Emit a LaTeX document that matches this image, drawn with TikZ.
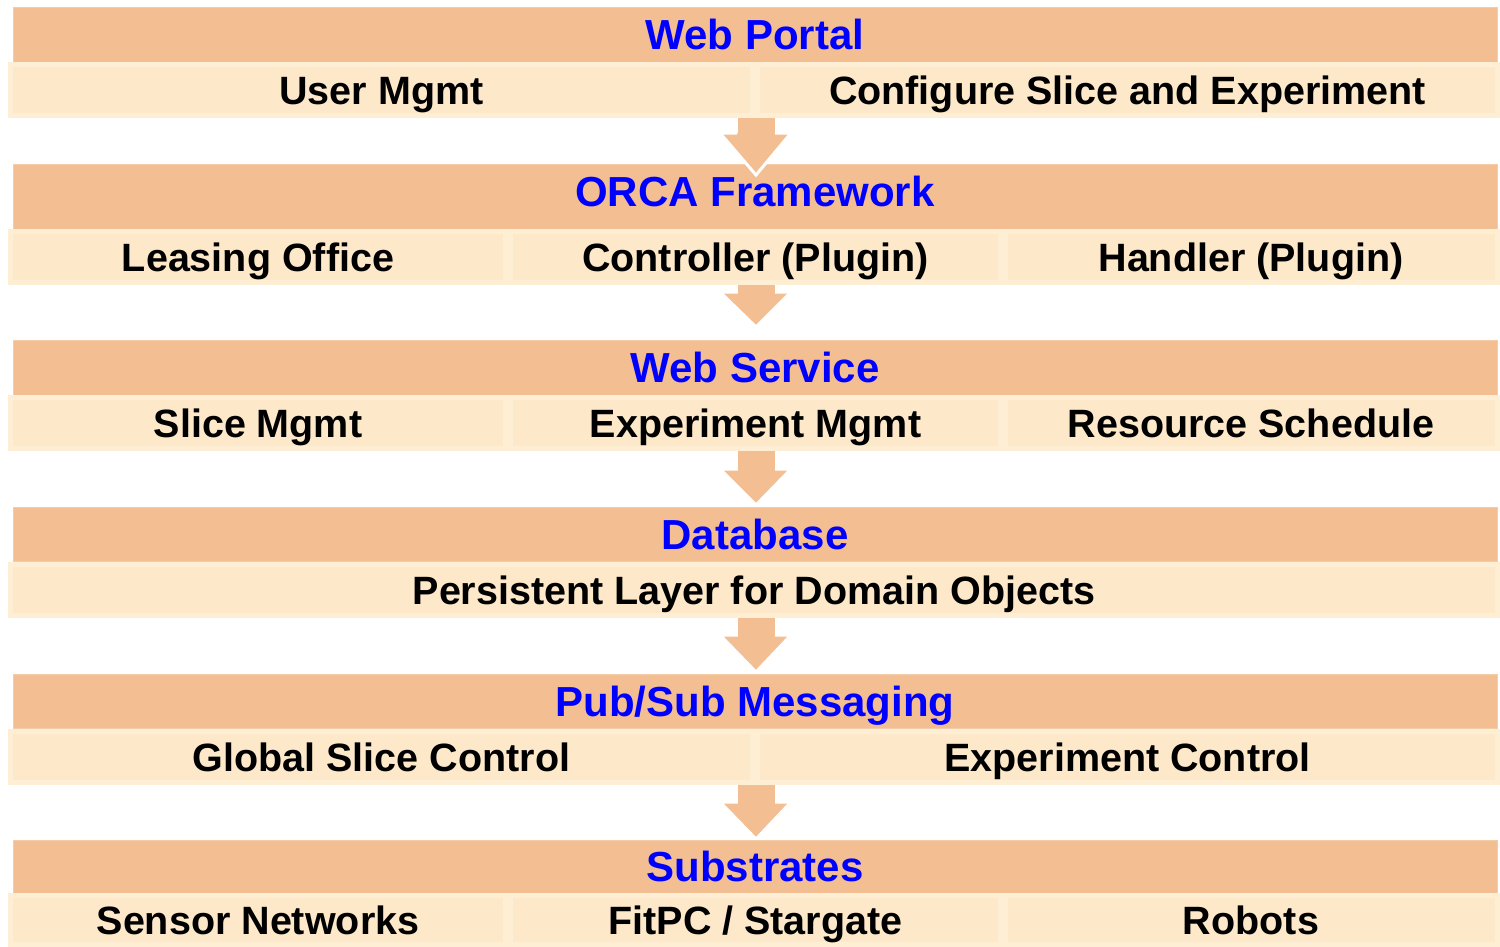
\documentclass[tikz,border=0pt]{standalone}
\usepackage{fontspec}
\setmainfont{Liberation Sans}
\definecolor{hdrfill}{RGB}{242,190,146}
\definecolor{hdredge}{RGB}{245,204,168}
\definecolor{subfill}{RGB}{253,233,201}
\definecolor{subedge}{RGB}{254,238,212}
\definecolor{hdrtext}{RGB}{0,0,255}
\tikzset{
  hdr/.style={fill=hdrfill, draw=hdredge, line width=1pt, inner sep=0pt,
    minimum width=1484pt, text=hdrtext, text height=36pt, text depth=6pt,
    font=\bfseries\fontsize{42}{48}\selectfont},
  cell/.style={fill=subfill, draw=subedge, line width=5pt, inner sep=0pt,
    text height=34.3pt, text depth=6pt,
    font=\bfseries\fontsize{39.5}{46}\selectfont, text=black},
  layerarrow/.style={fill=hdrfill, draw=white, line width=3pt, line join=miter}
}
\newcommand{\layerarrow}[4]{% name, top, headstart, tip
  \coordinate (#1s) at (756,#2);
  \coordinate (#1t) at (756,#4);
  \path[layerarrow] (737,#2) -- (775,#2) -- (775,#3) -- (791,#3) -- (#1t)
     -- (720,#3) -- (737,#3) -- cycle;
  \fill[hdrfill] (737.5,#2-2) rectangle (774.5,#3+2);
}
\begin{document}
\begin{tikzpicture}[x=1pt,y=-1pt]
\useasboundingbox (0,0) rectangle (1500,946);
% arrows first (behind)
\layerarrow{a1}{116}{133}{175}
\layerarrow{a2}{283}{292}{327}
\layerarrow{a3}{449}{469}{505}
\layerarrow{a4}{616}{635}{672}
\layerarrow{a5}{783}{802}{839}
% layer 1
\node[hdr, minimum height=55pt] (h1) at (755,34.5) {Web Portal};
\node[cell, minimum width=742pt, minimum height=51pt] (c11) at (381.5,90) {User Mgmt};
\node[cell, minimum width=740pt, minimum height=51pt] (c12) at (1127.5,90) {Configure Slice and Experiment};
% layer 2
\node[hdr, minimum height=65pt, text depth=17pt] (h2) at (755,196.5) {ORCA Framework};
\node[cell, minimum width=495pt, minimum height=51pt] (c21) at (258,257) {Leasing Office};
\node[cell, minimum width=490pt, minimum height=51pt] (c22) at (755.5,257) {Controller (Plugin)};
\node[cell, minimum width=492pt, minimum height=51pt] (c23) at (1251,257) {Handler (Plugin)};
% layer 3
\node[hdr, minimum height=55pt] (h3) at (755,367.5) {Web Service};
\node[cell, minimum width=495pt, minimum height=51pt] (c31) at (258,423) {Slice Mgmt};
\node[cell, minimum width=490pt, minimum height=51pt] (c32) at (755.5,423) {Experiment Mgmt};
\node[cell, minimum width=492pt, minimum height=51pt] (c33) at (1251,423) {Resource Schedule};
% layer 4
\node[hdr, minimum height=54pt] (h4) at (755,534) {Database};
\node[cell, minimum width=1487pt, minimum height=51pt] (c41) at (754,590) {Persistent Layer for Domain Objects};
% layer 5
\node[hdr, minimum height=54pt] (h5) at (755,701) {Pub/Sub Messaging};
\node[cell, minimum width=742pt, minimum height=51pt] (c51) at (381.5,757) {Global Slice Control};
\node[cell, minimum width=740pt, minimum height=51pt] (c52) at (1127.5,757) {Experiment Control};
% layer 6
\node[hdr, minimum height=53pt] (h6) at (755,866.5) {Substrates};
\node[cell, minimum width=495pt, minimum height=49pt] (c61) at (258,920) {Sensor Networks};
\node[cell, minimum width=490pt, minimum height=49pt] (c62) at (755.5,920) {FitPC / Stargate};
\node[cell, minimum width=492pt, minimum height=49pt] (c63) at (1251,920) {Robots};
% arrow tip over the second header
\path[layerarrow] (775,133) -- (791,133) -- (a1t) -- (720,133) -- (737,133);
\end{tikzpicture}
\end{document}
